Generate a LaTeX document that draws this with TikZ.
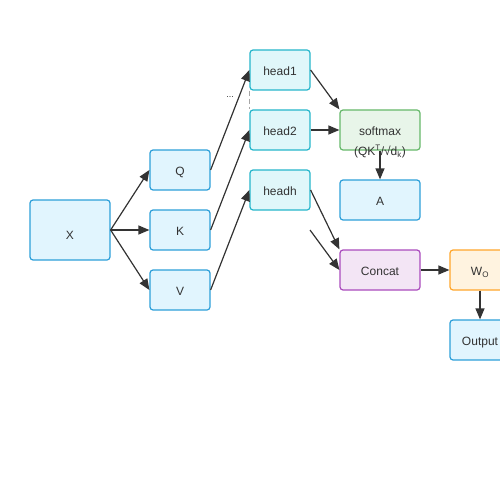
\documentclass[tikz,border=0pt]{standalone}
\usepackage{fontspec}
\setmainfont{Liberation Sans}
\usetikzlibrary{arrows.meta}
\definecolor{txt}{HTML}{333333}
\definecolor{bluedge}{HTML}{2D9FD9}
\definecolor{bluefill}{HTML}{E1F5FE}
\definecolor{cyanedge}{HTML}{26B6CB}
\definecolor{cyanfill}{HTML}{E0F7FA}
\definecolor{greenedge}{HTML}{66B86A}
\definecolor{greenfill}{HTML}{E8F5E9}
\definecolor{purpedge}{HTML}{AA4BBD}
\definecolor{purpfill}{HTML}{F3E5F5}
\definecolor{orgedge}{HTML}{FFA62B}
\definecolor{orgfill}{HTML}{FFF3E0}
\definecolor{arrowc}{HTML}{333333}
\begin{document}
\begin{tikzpicture}[
    x=1pt, y=-1pt,
    every node/.style={font=\fontsize{12}{14}\selectfont, text=txt, inner sep=0pt},
    box/.style={rounded corners=3pt, line width=1.2pt, minimum width=60pt, minimum height=40pt,
        text height=11pt, text depth=0pt},
    inbox/.style={box, draw=bluedge, fill=bluefill},
    headbox/.style={box, draw=cyanedge, fill=cyanfill},
    link/.style={draw=arrowc, line width=1.2pt, -{Triangle[length=11pt,width=9pt]}}
]
\useasboundingbox (0,0) rectangle (500,500);
\node[inbox, minimum width=80pt, minimum height=60pt, text height=18pt] (x) at (70,230) {X};
\node[inbox] (q) at (180,170) {Q};
\node[inbox] (k) at (180,230) {K};
\node[inbox] (v) at (180,290) {V};
\node[headbox] (h1) at (280,70) {head1};
\node[headbox] (h2) at (280,130) {head2};
\node[headbox] (hh) at (280,190) {headh};
\node[font=\fontsize{9}{10}\selectfont] (dots) at (230,97) {...};
\node[box, minimum width=80pt, draw=greenedge, fill=greenfill,
    label={[anchor=center, text=txt, yshift=-1pt]south:{(QK\textsuperscript{T}/√d\textsubscript{k})}}] (sm) at (380,130) {softmax};
\node[inbox, minimum width=80pt] (a) at (380,200) {A};
\node[box, minimum width=80pt, draw=purpedge, fill=purpfill] (cat) at (380,270) {Concat};
\node[box, draw=orgedge, fill=orgfill] (wo) at (480,270) {W\textsubscript{O}};
\node[inbox] (out) at (480,340) {Output};
\coordinate (more) at (310,230);
% inputs
\draw[link] (x.east) -- (q.west);
\draw[link] (x.east) -- (k.west);
\draw[link] (x.east) -- (v.west);
\draw[link] (q.east) -- (h1.west);
\draw[link] (k.east) -- (h2.west);
\draw[link] (v.east) -- (hh.west);
\draw[gray!70, line width=1.5pt, dash pattern=on 5pt off 3pt] (h1.south west) -- (h2.north west);
% heads
\draw[link] (h1.east) -- (sm.north west);
\draw[link] (h2.east) -- (sm.west);
\draw[link] (sm.south) -- (a.north);
\draw[link] (hh.east) -- (cat.north west);
\draw[link] (more) -- (cat.west);
\draw[link] (cat.east) -- (wo.west);
\draw[link] (wo.south) -- (out.north);
\end{tikzpicture}
\end{document}
